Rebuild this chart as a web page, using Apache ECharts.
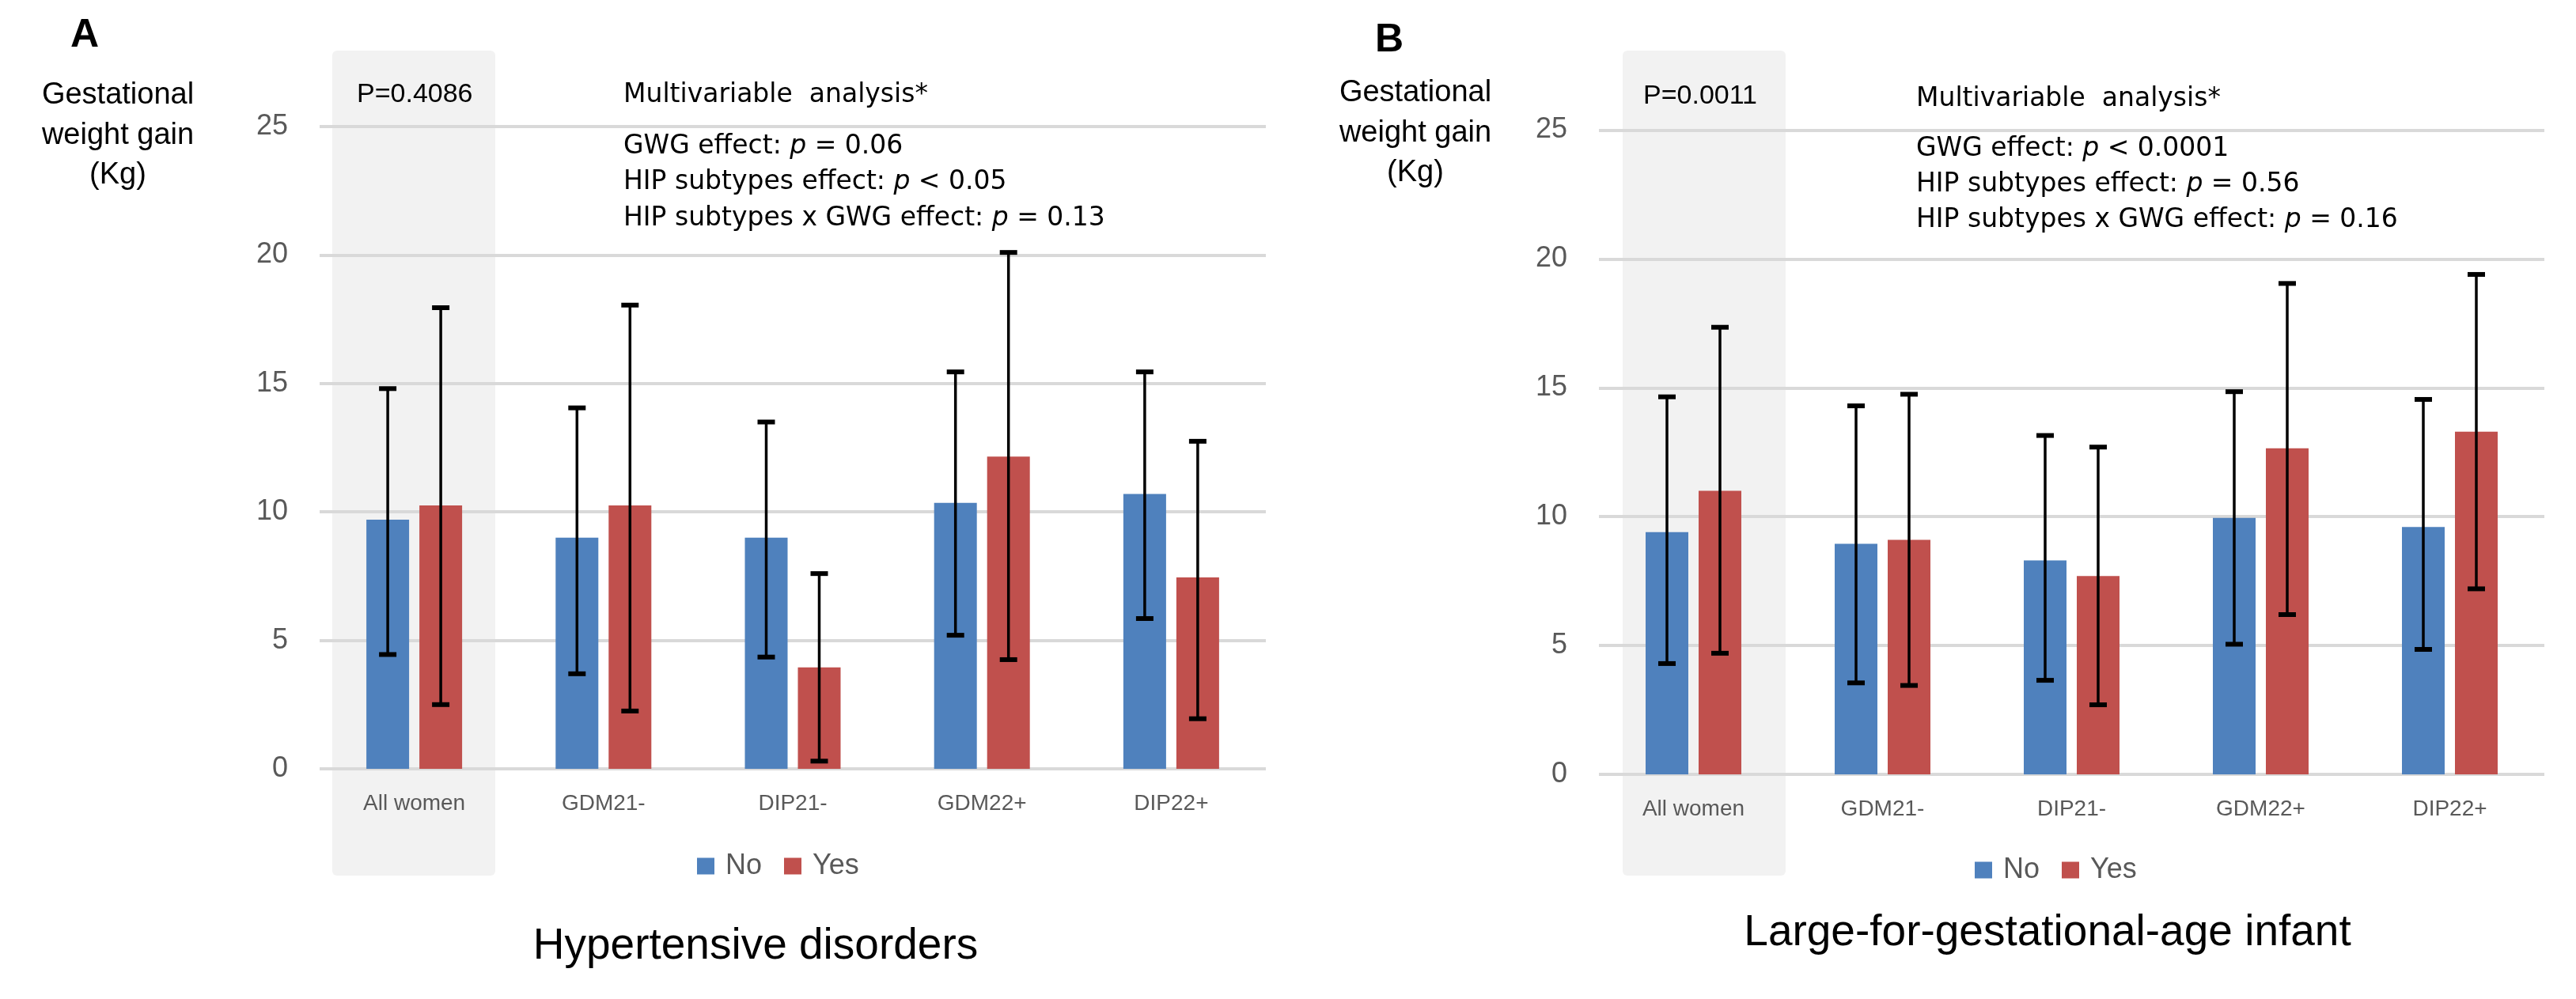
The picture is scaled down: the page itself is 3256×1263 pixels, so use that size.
<!DOCTYPE html>
<html>
<head>
<meta charset="utf-8">
<script src="https://cdn.jsdelivr.net/npm/echarts@6/dist/echarts.min.js"></script>
<style>html,body{margin:0;padding:0;background:#fff;}#c{width:3256px;height:1263px;}</style>
</head>
<body>
<div id="c"></div>
<script>
// ---- data ----
const categories = ['All women', 'GDM21-', 'DIP21-', 'GDM22+', 'DIP22+'];
const seriesNames = ['No', 'Yes'];
const yTicks = [0, 5, 10, 15, 20, 25];

// Panel A: Hypertensive disorders
const aNo      = [9.7, 9.0, 9.0, 10.35, 10.7];
const aNoLow   = [4.45, 3.7, 4.35, 5.2, 5.85];
const aNoHigh  = [14.8, 14.05, 13.5, 15.45, 15.45];
const aYes     = [10.25, 10.25, 3.95, 12.15, 7.45];
const aYesLow  = [2.5, 2.25, 0.3, 4.25, 1.95];
const aYesHigh = [17.95, 18.05, 7.6, 20.1, 12.75];

// Panel B: Large-for-gestational-age infant
const bNo      = [9.4, 8.95, 8.3, 9.95, 9.6];
const bNoLow   = [4.3, 3.55, 3.65, 5.05, 4.85];
const bNoHigh  = [14.65, 14.3, 13.15, 14.85, 14.55];
const bYes     = [11.0, 9.1, 7.7, 12.65, 13.3];
const bYesLow  = [4.7, 3.45, 2.7, 6.2, 7.2];
const bYesHigh = [17.35, 14.75, 12.7, 19.05, 19.4];

const pA = 'P=0.4086';
const pB = 'P=0.0011';
const multiHead = 'Multivariable  analysis*';
const multiA = ['GWG effect: {i|p} = 0.06', 'HIP subtypes effect: {i|p} < 0.05', 'HIP subtypes x GWG effect: {i|p} = 0.13'];
const multiB = ['GWG effect: {i|p} < 0.0001', 'HIP subtypes effect: {i|p} = 0.56', 'HIP subtypes x GWG effect: {i|p} = 0.16'];
const titleA = 'Hypertensive disorders';
const titleB = 'Large-for-gestational-age infant';
const yTitle = ['Gestational', 'weight gain', '(Kg)'];

// ---- styles ----
const FF = '"Liberation Sans", Arial, Helvetica, sans-serif';
const FW = '"DejaVu Sans", "Liberation Sans", Arial, sans-serif';
const BLUE = '#4F81BD', RED = '#C0504D', GREY = '#595959', GRID = '#d9d9d9';
const BAR_W = 54, BAR_GAP = 13;
const OFF = (BAR_W + BAR_GAP) / 2;

const chart = echarts.init(document.getElementById('c'), null, {renderer: 'canvas', width: 3256, height: 1263});

function xAx(gi) {
  return {
    type: 'category', gridIndex: gi, data: categories,
    axisLine: {show: false}, axisTick: {show: false},
    axisLabel: {fontSize: 28, color: GREY, fontFamily: FF, margin: 30},
    splitLine: {show: false}
  };
}
function yAx(gi) {
  return {
    type: 'value', gridIndex: gi, min: yTicks[0], max: yTicks[yTicks.length - 1], interval: yTicks[1] - yTicks[0],
    axisLine: {show: false}, axisTick: {show: false},
    axisLabel: {fontSize: 36, color: GREY, fontFamily: FF, margin: 40},
    splitLine: {show: true, lineStyle: {color: GRID, width: 4}}
  };
}
function bar(gi, name, data, color) {
  return {
    type: 'bar', name: name, xAxisIndex: gi, yAxisIndex: gi, data: data,
    barWidth: BAR_W, barGap: (BAR_GAP / BAR_W * 100) + '%',
    itemStyle: {color: color}, z: 2, animation: false
  };
}
function err(gi, name, low, high, off) {
  return {
    type: 'custom', name: name + ' err', xAxisIndex: gi, yAxisIndex: gi, z: 5,
    data: low.map((l, i) => [i, l, high[i]]),
    encode: {x: 0, y: [1, 2]},
    animation: false,
    renderItem: function (params, api) {
      const ci = api.value(0);
      const lo = api.coord([ci, api.value(1)]);
      const hi = api.coord([ci, api.value(2)]);
      const x = lo[0] + off;
      return {
        type: 'group', children: [
          {type: 'line', shape: {x1: x, y1: lo[1], x2: x, y2: hi[1]}, style: {stroke: '#000', lineWidth: 3.5}},
          {type: 'line', shape: {x1: x - 11, y1: lo[1], x2: x + 11, y2: lo[1]}, style: {stroke: '#000', lineWidth: 6}},
          {type: 'line', shape: {x1: x - 11, y1: hi[1], x2: x + 11, y2: hi[1]}, style: {stroke: '#000', lineWidth: 6}}
        ]
      };
    }
  };
}
function txt(x, y, text, size, opts) {
  opts = opts || {};
  const fam = opts.family || FF;
  const st = {
    text: text, fontSize: size, fontFamily: fam, fontWeight: opts.bold ? 'bold' : 'normal',
    fill: opts.color || '#000',
    align: opts.align || 'left', textAlign: opts.align || 'left',
    verticalAlign: 'middle', textVerticalAlign: 'middle'
  };
  if (opts.rich) st.rich = {i: {fontStyle: 'italic', fontSize: size, fontFamily: fam, fill: '#000'}};
  return {type: 'text', x: x, y: y, z: 10, silent: true, style: st};
}
function band(x, y, w, h) {
  return {type: 'rect', z: -100, silent: true, shape: {x: x, y: y, width: w, height: h, r: 6}, style: {fill: '#f2f2f2'}};
}

const graphics = [
  band(420, 64, 206, 1043),
  band(2051, 64, 206, 1043),
  txt(107, 45, 'A', 50, {bold: true, align: 'center'}),
  txt(1756, 51, 'B', 50, {bold: true, align: 'center'}),
  txt(149, 121, yTitle[0], 38, {align: 'center'}),
  txt(149, 172, yTitle[1], 38, {align: 'center'}),
  txt(149, 222, yTitle[2], 38, {align: 'center'}),
  txt(1789, 118, yTitle[0], 38, {align: 'center'}),
  txt(1789, 169, yTitle[1], 38, {align: 'center'}),
  txt(1789, 219, yTitle[2], 38, {align: 'center'}),
  txt(451, 120, pA, 34),
  txt(2077, 122, pB, 34),
  txt(788, 120, multiHead, 33, {family: FW}),
  txt(2422, 125, multiHead, 33, {family: FW}),
  txt(788, 185, multiA[0], 33, {rich: true, family: FW}),
  txt(788, 230, multiA[1], 33, {rich: true, family: FW}),
  txt(788, 276, multiA[2], 33, {rich: true, family: FW}),
  txt(2422, 188, multiB[0], 33, {rich: true, family: FW}),
  txt(2422, 233, multiB[1], 33, {rich: true, family: FW}),
  txt(2422, 278, multiB[2], 33, {rich: true, family: FW}),
  txt(955, 1197, titleA, 55, {align: 'center'}),
  txt(2588, 1180, titleB, 55, {align: 'center'})
];

function legend(left, top) {
  return {
    data: seriesNames, left: left, top: top, padding: 0, itemGap: 28,
    icon: 'rect', itemWidth: 22, itemHeight: 21,
    textStyle: {fontSize: 36, color: GREY, fontFamily: FF, padding: [0, 0, 0, 9]},
    selectedMode: false
  };
}

chart.setOption({
  backgroundColor: '#fff',
  animation: false,
  grid: [
    {left: 404, top: 160, width: 1196, height: 812},
    {left: 2021, top: 164.5, width: 1195, height: 814.5}
  ],
  xAxis: [xAx(0), xAx(1)],
  yAxis: [yAx(0), yAx(1)],
  legend: [legend(881, 1077), legend(2496, 1082)],
  graphic: {elements: graphics},
  series: [
    bar(0, seriesNames[0], aNo, BLUE),
    bar(0, seriesNames[1], aYes, RED),
    err(0, 'A No', aNoLow, aNoHigh, -OFF),
    err(0, 'A Yes', aYesLow, aYesHigh, OFF),
    bar(1, seriesNames[0], bNo, BLUE),
    bar(1, seriesNames[1], bYes, RED),
    err(1, 'B No', bNoLow, bNoHigh, -OFF),
    err(1, 'B Yes', bYesLow, bYesHigh, OFF)
  ]
});
</script>
</body>
</html>
